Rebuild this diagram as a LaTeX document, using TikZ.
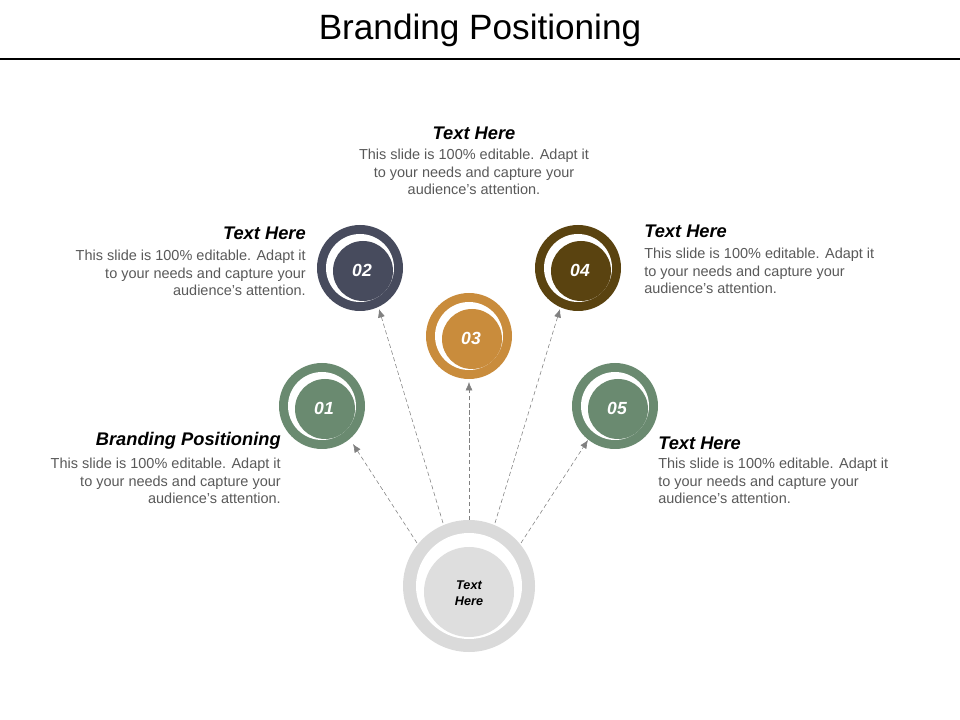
\documentclass[tikz,border=0pt]{standalone}
\usepackage{fontspec}
\setmainfont{Liberation Sans}
\usetikzlibrary{arrows.meta,calc}
\definecolor{cgreen}{HTML}{6A8A70}
\definecolor{cslate}{HTML}{474B5D}
\definecolor{cochre}{HTML}{C98C3C}
\definecolor{cbrown}{HTML}{5A4310}
\definecolor{cgrey}{HTML}{DADADA}
\definecolor{ctext}{HTML}{595959}
\tikzset{
  heading/.style={font=\fontsize{13}{15}\selectfont\bfseries\itshape},
  bodytext/.style={font=\fontsize{10.3}{12.4}\selectfont, text=ctext, inner sep=0pt},
  link/.style={densely dashed, draw=gray, thin, -{Latex[length=6pt,width=5pt]}},
  numtext/.style={font=\fontsize{12.5}{14}\selectfont\bfseries\itshape, text=white}
}
\newcommand{\ringnode}[4]{%
  \fill[#2] (#1) circle (43);
  \fill[white] (#1) circle (34);
  \fill[#2] ($(#1)+(3,3)$) circle (30);
  \node[numtext] at ($(#1)+(2,2)$) {#3};
  \coordinate (#4) at ($(#1)+(0,0)$);
}
\begin{document}
\begin{tikzpicture}[x=0.025cm,y=-0.025cm]
  \useasboundingbox (0,0) rectangle (960,720);
  % title
  \node[font=\fontsize{25}{28}\selectfont] (title) at (480,30) {Branding Positioning};
  \draw[line width=0.8pt] (0,59) -- (960,59);

  % centre
  \fill[cgrey] (469,586) circle (66);
  \fill[white] (469,586) circle (53);
  \fill[cgrey!90!white] (469,592) circle (45);
  \node[font=\fontsize{9}{11}\selectfont\bfseries\itshape, align=center] (hub) at (469,593) {Text\\Here};

  % rings
  \coordinate (c1) at (322,406);
  \coordinate (c2) at (360,268);
  \coordinate (c3) at (469,336);
  \coordinate (c4) at (578,268);
  \coordinate (c5) at (615,406);
  \ringnode{c1}{cgreen}{01}{r1}
  \ringnode{c2}{cslate}{02}{r2}
  \ringnode{c3}{cochre}{03}{r3}
  \ringnode{c4}{cbrown}{04}{r4}
  \ringnode{c5}{cgreen}{05}{r5}

  % connectors
  \coordinate (s1) at (417,543); \coordinate (e1) at (353,444);
  \coordinate (s2) at (443,523); \coordinate (e2) at (379,309);
  \coordinate (s3) at (469,520); \coordinate (e3) at (469,382);
  \coordinate (s4) at (495,523); \coordinate (e4) at (560,309);
  \coordinate (s5) at (521,543); \coordinate (e5) at (588,440);
  \foreach \i in {1,...,5}
    \draw[link] (s\i) -- (e\i);

  % texts
  \node[heading] (h3) at (474,133) {Text Here};
  \node[bodytext, align=center, anchor=north] (b3) at (474,149)
    {This slide is 100\% editable. Adapt it\\to your needs and capture your\\audience's attention.};
  \node[heading, anchor=east, inner sep=0pt] (h2) at (306,233) {Text Here};
  \node[bodytext, align=right, anchor=north east] (b2) at (306,250)
    {This slide is 100\% editable. Adapt it\\to your needs and capture your\\audience's attention.};
  \node[heading, anchor=west, inner sep=0pt] (h4) at (644,231) {Text Here};
  \node[bodytext, align=left, anchor=north west] (b4) at (644,248)
    {This slide is 100\% editable. Adapt it\\to your needs and capture your\\audience's attention.};
  \node[heading, anchor=east, inner sep=0pt] (h1) at (281,441) {Branding Positioning};
  \node[bodytext, align=right, anchor=north east] (b1) at (281,458)
    {This slide is 100\% editable. Adapt it\\to your needs and capture your\\audience's attention.};
  \node[heading, anchor=west, inner sep=0pt] (h5) at (658,443) {Text Here};
  \node[bodytext, align=left, anchor=north west] (b5) at (658,458)
    {This slide is 100\% editable. Adapt it\\to your needs and capture your\\audience's attention.};
\end{tikzpicture}
\end{document}
